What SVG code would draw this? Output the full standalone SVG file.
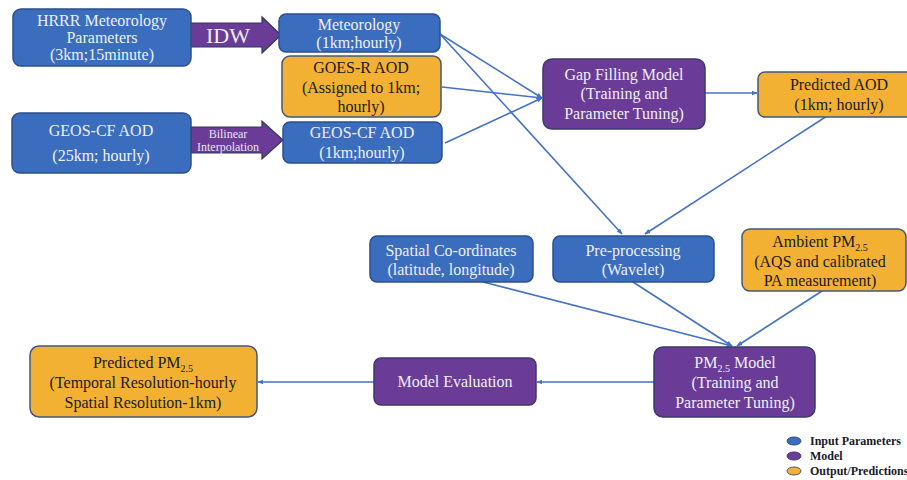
<svg xmlns="http://www.w3.org/2000/svg" width="907" height="480" viewBox="0 0 907 480">
  <defs>
    <marker id="arr" viewBox="0 0 10 10" refX="9" refY="5" markerWidth="6" markerHeight="6" orient="auto" markerUnits="userSpaceOnUse">
      <path d="M0,1 L10,5 L0,9 z" fill="#4472c4"/>
    </marker>
    <style>
      .blue { fill: #3b6dbf; stroke: #2b4f8c; stroke-width: 1.5; }
      .purple { fill: #6a3c97; stroke: #3c3a6e; stroke-width: 1.5; }
      .orange { fill: #f2b133; stroke: #44577a; stroke-width: 1.5; }
      .fat { fill: #6a3c97; stroke: #2f3a5a; stroke-width: 1.2; }
      .lt { fill: #eef0f6; font-size: 16px; }
      .dk { fill: #1a1a1a; font-size: 16px; }
      .edge { stroke: #4472c4; stroke-width: 1.6; fill: none; marker-end: url(#arr); }
      .leg { font-weight: bold; font-size: 12px; fill: #1a1a2a; }
    </style>
  </defs>

  <rect width="907" height="480" fill="#ffffff"/>

  <!-- connectors -->
  <g id="connectors">
    <line class="edge" x1="440" y1="34" x2="542" y2="98"/>
    <line class="edge" x1="442" y1="87" x2="542" y2="98"/>
    <line class="edge" x1="445" y1="143" x2="542" y2="98"/>
    <line class="edge" x1="440" y1="34" x2="622" y2="234"/>
    <line class="edge" x1="705" y1="93" x2="757" y2="93"/>
    <line class="edge" x1="827" y1="116" x2="645" y2="234"/>
    <line class="edge" x1="483" y1="282" x2="732" y2="346"/>
    <line class="edge" x1="633" y1="282" x2="732" y2="346"/>
    <line class="edge" x1="822" y1="291" x2="737" y2="346"/>
    <line class="edge" x1="654" y1="382" x2="537" y2="382"/>
    <line class="edge" x1="374" y1="382" x2="258" y2="382"/>
  </g>

  <g font-family="'Liberation Serif', 'DejaVu Serif', serif" text-anchor="middle">
  <!-- block arrows -->
  <g id="idw-arrow">
    <path class="fat" d="M190,23 L262,23 L262,17 L281,35 L262,53 L262,47 L190,47 z"/>
    <text x="228" y="43" fill="#eef0f6" font-size="22">IDW</text>
  </g>
  <g id="bilinear-arrow">
    <path class="fat" d="M191,127 L262,127 L262,121 L283,140 L262,159 L262,153 L191,153 z"/>
    <text x="228" y="138" fill="#e6e2f0" font-size="12">Bilinear</text>
    <text x="228" y="151" fill="#e6e2f0" font-size="12">Interpolation</text>
  </g>

  <!-- nodes -->
  <g id="hrrr">
    <rect class="blue" x="13" y="9" width="178" height="57" rx="8"/>
    <text class="lt" x="102" y="26">HRRR Meteorology</text>
    <text class="lt" x="102" y="43">Parameters</text>
    <text class="lt" x="102" y="60">(3km;15minute)</text>
  </g>

  <g id="geoscf-25km">
    <rect class="blue" x="12" y="113" width="179" height="60" rx="8"/>
    <text class="lt" x="101" y="136">GEOS-CF AOD</text>
    <text class="lt" x="101" y="161">(25km; hourly)</text>
  </g>

  <g id="meteorology-1km">
    <rect class="blue" x="279" y="14" width="161" height="38" rx="7"/>
    <text class="lt" x="359" y="30">Meteorology</text>
    <text class="lt" x="359" y="48">(1km;hourly)</text>
  </g>

  <g id="goesr-aod">
    <rect class="orange" x="282" y="56" width="159" height="61" rx="8"/>
    <text class="dk" x="361" y="73">GOES-R AOD</text>
    <text class="dk" x="361" y="93">(Assigned to 1km;</text>
    <text class="dk" x="361" y="112">hourly)</text>
  </g>

  <g id="geoscf-1km">
    <rect class="blue" x="283" y="122" width="159" height="41" rx="7"/>
    <text class="lt" x="362" y="138">GEOS-CF AOD</text>
    <text class="lt" x="362" y="158">(1km;hourly)</text>
  </g>

  <g id="gap-filling-model">
    <rect class="purple" x="543" y="59" width="162" height="70" rx="9"/>
    <text class="lt" x="624" y="80">Gap Filling Model</text>
    <text class="lt" x="624" y="99">(Training and</text>
    <text class="lt" x="624" y="119">Parameter Tuning)</text>
  </g>

  <g id="predicted-aod">
    <rect class="orange" x="758" y="72" width="164" height="45" rx="7"/>
    <text class="dk" x="839" y="90">Predicted AOD</text>
    <text class="dk" x="839" y="110">(1km; hourly)</text>
  </g>

  <g id="spatial-coordinates">
    <rect class="blue" x="370" y="236" width="163" height="46" rx="7"/>
    <text class="lt" x="451" y="256">Spatial Co-ordinates</text>
    <text class="lt" x="451" y="275">(latitude, longitude)</text>
  </g>

  <g id="pre-processing">
    <rect class="blue" x="553" y="236" width="161" height="46" rx="7"/>
    <text class="lt" x="633" y="256">Pre-processing</text>
    <text class="lt" x="633" y="275">(Wavelet)</text>
  </g>

  <g id="ambient-pm25">
    <rect class="orange" x="742" y="229" width="164" height="62" rx="8"/>
    <text class="dk" x="820" y="247">Ambient PM<tspan dy="4" font-size="10">2.5</tspan></text>
    <text class="dk" x="820" y="267">(AQS and calibrated</text>
    <text class="dk" x="820" y="286">PA measurement)</text>
  </g>

  <g id="pm25-model">
    <rect class="purple" x="654" y="347" width="161" height="70" rx="9"/>
    <text class="lt" x="735" y="368">PM<tspan dy="4" font-size="10">2.5</tspan><tspan dy="-4"> Model</tspan></text>
    <text class="lt" x="735" y="388">(Training and</text>
    <text class="lt" x="735" y="408">Parameter Tuning)</text>
  </g>

  <g id="model-evaluation">
    <rect class="purple" x="374" y="358" width="162" height="47" rx="7"/>
    <text class="lt" x="455" y="387">Model Evaluation</text>
  </g>

  <g id="predicted-pm25">
    <rect class="orange" x="30" y="346" width="227" height="71" rx="9"/>
    <text class="dk" x="143" y="368">Predicted PM<tspan dy="4" font-size="10">2.5</tspan></text>
    <text class="dk" x="143" y="388">(Temporal Resolution-hourly</text>
    <text class="dk" x="143" y="408">Spatial Resolution-1km)</text>
  </g>

  <!-- legend -->
  <g id="legend" text-anchor="start">
    <ellipse cx="794" cy="441" rx="7" ry="4" fill="#3b6dbf" stroke="#2b4f8c" stroke-width="1"/>
    <text class="leg" x="810" y="445">Input Parameters</text>
    <ellipse cx="794" cy="456" rx="7" ry="4" fill="#6a3c97" stroke="#3c3a6e" stroke-width="1"/>
    <text class="leg" x="810" y="460">Model</text>
    <ellipse cx="794" cy="471" rx="7" ry="4" fill="#f2b133" stroke="#44577a" stroke-width="1"/>
    <text class="leg" x="810" y="475">Output/Predictions</text>
  </g>
  </g>
</svg>
